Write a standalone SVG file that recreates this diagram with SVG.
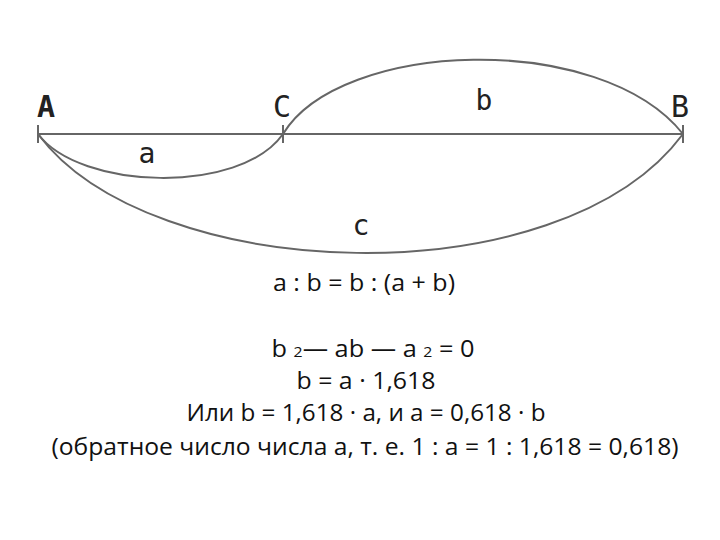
<svg xmlns="http://www.w3.org/2000/svg" width="720" height="540" viewBox="0 0 720 540">
<style>
.ln{fill:none;stroke:#666;stroke-width:2}
.lbl{font-family:"DejaVu Sans Mono","Liberation Mono",monospace;fill:#222;text-anchor:middle}
.eq{font-family:"Open Sans","Liberation Sans",sans-serif;font-size:24px;fill:#111;text-anchor:middle}
.sub{font-size:15px}
</style>
<rect width="720" height="540" fill="#fff"/>
<g id="connectors">
<path class="ln" d="M38,134 H683"/>
<path class="ln" d="M38,125 V143 M283,125 V143 M683,125 V143"/>
<path class="ln" d="M38,134 C80,190 240,195 283,134"/>
<path class="ln" d="M283,134 C340,40 600,30 683,134"/>
<path class="ln" d="M38,134 C150,285 560,300 683,134"/>
</g>
<g id="nodeA"><text class="lbl" x="46" y="117" font-size="30" font-weight="bold">A</text></g>
<g id="nodeC"><text class="lbl" x="282" y="117" font-size="30">C</text></g>
<g id="nodeB"><text class="lbl" x="680" y="117" font-size="30">B</text></g>
<g id="labelA"><text class="lbl" x="147" y="163" font-size="28">a</text></g>
<g id="labelB"><text class="lbl" x="484" y="110" font-size="28">b</text></g>
<g id="labelC"><text class="lbl" x="361" y="235" font-size="28">c</text></g>
<g id="equations">
<text class="eq" x="364" y="291" textLength="182" lengthAdjust="spacingAndGlyphs">a : b = b : (a + b)</text>
<text class="eq" x="373" y="357" textLength="203" lengthAdjust="spacingAndGlyphs">b <tspan class="sub">2</tspan>— ab — a <tspan class="sub">2</tspan> = 0</text>
<text class="eq" x="366" y="389" textLength="139" lengthAdjust="spacingAndGlyphs">b = a · 1,618</text>
<text class="eq" x="366" y="421" textLength="359" lengthAdjust="spacingAndGlyphs">Или b = 1,618 · a, и a = 0,618 · b</text>
<text class="eq" x="365" y="455" textLength="627" lengthAdjust="spacingAndGlyphs">(обратное число числа а, т. е. 1 : а = 1 : 1,618 = 0,618)</text>
</g>
</svg>
